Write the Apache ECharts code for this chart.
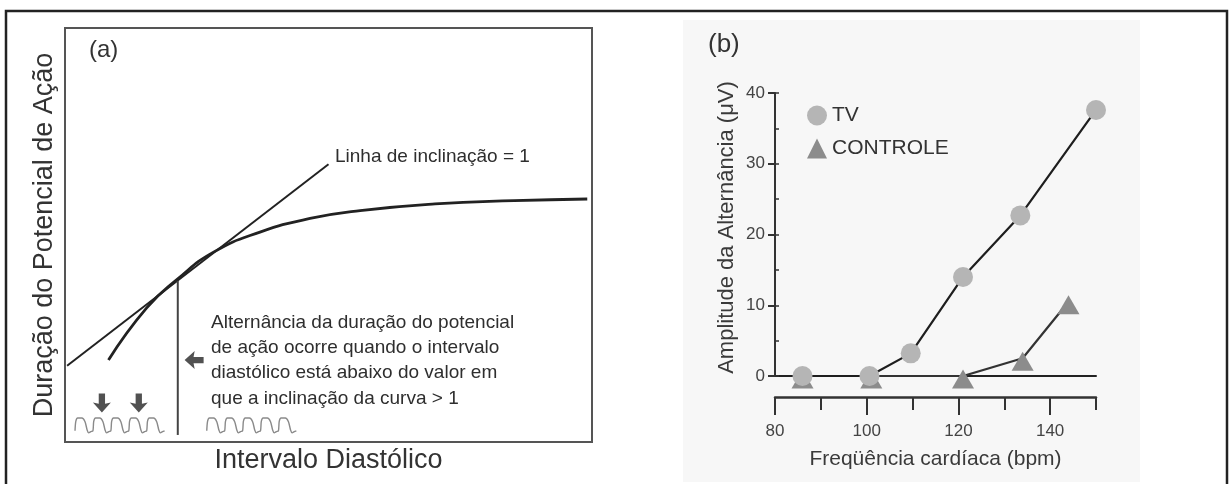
<!DOCTYPE html>
<html>
<head>
<meta charset="utf-8">
<script src="https://cdn.jsdelivr.net/npm/echarts@6/dist/echarts.min.js"></script>
<style>
html,body{margin:0;padding:0;background:#fff;}
#chart{width:1229px;height:484px;}
</style>
</head>
<body>
<div id="chart"></div>
<script>
// painel (a): curva de restituição, em unidades da caixa (0..100)
var restitutionCurve = [[8.25,19.8],[15.5,32.4],[21.4,39.4],[28.1,45.8],[37.0,50.7],[46.5,54.0],[56.0,55.9],[70.2,57.5],[85.2,58.3],[99.1,58.7]];
var slopeOneLine = [[0.4,18.4],[50.0,67.1]];
var thresholdLine = [[21.4,38.9],[21.4,1.7]];
// setas: x, y, rotação
var arrowMarks = [[7.0,9.4,180],[14.0,9.4,180],[24.5,19.8,90]];
// um batimento do traçado (dx, dy) e onde começa cada traçado
var pulseShape = [[0,0],[0.15,2.3],[0.5,3.1],[1.3,3.1],[1.9,2.2],[2.3,0.2],[2.6,-0.5],[3.0,-0.2],[3.4,0]];
var waveStarts = [1.9, 26.9];
var waveBase = 2.7;
var beats = 5;

// painel (b): amplitude da alternância x frequência cardíaca
var tvRate = [86, 100.6, 109.6, 121, 133.5, 150];
var tvAmp = [0, 0, 3.2, 14, 22.7, 37.6];
var ctrlRate = [86, 101, 121, 134, 144];
var ctrlAmp = [0, 0, 0, 2.5, 10.5];
var legendNames = ['TV', 'CONTROLE'];

var FONT = 'Liberation Sans, Arial, sans-serif';

function zip(xs, ys){ return xs.map(function(x,i){ return [x, ys[i]]; }); }
function waveLine(x0){
    var pts = [];
    for (var c = 0; c < beats; c++) {
        pulseShape.forEach(function(p, k){
            if (c > 0 && k === 0) return;
            pts.push([x0 + c * 3.4 + p[0], waveBase + p[1]]);
        });
    }
    return pts;
}

var chart = echarts.init(document.getElementById('chart'));

var hidden = {axisLine:{show:false}, axisTick:{show:false}, axisLabel:{show:false}, splitLine:{show:false}};

var option = {
    animation:false,
    backgroundColor:'#ffffff',
    textStyle:{fontFamily:FONT},
    grid:[
        {left:65, top:28, width:527, height:414, show:true, borderColor:'#555', borderWidth:2, backgroundColor:'transparent'},
        {left:775, top:93, width:321, height:283}
    ],
    legend:{
        orient:'vertical', left:807, top:105, padding:0,
        itemWidth:20, itemHeight:20, itemGap:12,
        textStyle:{fontSize:21, color:'#333', fontFamily:FONT},
        data:[{name:legendNames[0], icon:'circle'},{name:legendNames[1], icon:'triangle'}]
    },
    xAxis:[
        Object.assign({gridIndex:0, type:'value', min:0, max:100,
            name:'Intervalo Diastólico', nameLocation:'middle', nameGap:5,
            nameTextStyle:{fontSize:27, color:'#333'}}, hidden),
        {gridIndex:1, type:'value', min:80, max:150, interval:10, position:'bottom',
            axisLine:{onZero:false, lineStyle:{color:'#222', width:2}},
            axisTick:{show:false}, axisLabel:{show:false}, splitLine:{show:false}},
        {gridIndex:1, type:'value', min:80, max:150, interval:10, position:'bottom', offset:21,
            axisLine:{onZero:false, lineStyle:{color:'#333', width:2.5}},
            axisTick:{length:13, lineStyle:{color:'#333', width:2}},
            axisLabel:{show:false}, splitLine:{show:false}},
        {gridIndex:1, type:'value', min:80, max:150, interval:20, position:'bottom', offset:21,
            axisLine:{show:false, onZero:false},
            axisTick:{length:18, lineStyle:{color:'#333', width:2}},
            axisLabel:{fontSize:17, color:'#444', margin:26, showMaxLabel:false},
            splitLine:{show:false},
            name:'Freqüência cardíaca (bpm)', nameLocation:'middle', nameGap:52,
            nameTextStyle:{fontSize:21, color:'#3a3a3a'}}
    ],
    yAxis:[
        Object.assign({gridIndex:0, type:'value', min:0, max:100,
            name:'Duração do Potencial de Ação', nameLocation:'middle', nameGap:7,
            nameTextStyle:{fontSize:27, color:'#333'}}, hidden),
        {gridIndex:1, type:'value', min:0, max:40, interval:10, position:'left',
            axisLine:{show:true, onZero:false, lineStyle:{color:'#333', width:2}},
            axisTick:{show:true, length:7, lineStyle:{color:'#333', width:2}},
            axisLabel:{fontSize:17, color:'#444', margin:10},
            splitLine:{show:false},
            name:'Amplitude da Alternância (μV)', nameLocation:'middle', nameGap:37,
            nameTextStyle:{fontSize:22, color:'#3a3a3a', padding:[0,0,0,14]}},
        {gridIndex:1, type:'value', min:0, max:40, interval:5, position:'left',
            axisLine:{show:false, onZero:false},
            axisTick:{show:true, inside:true, length:4, lineStyle:{color:'#333', width:1.5}},
            axisLabel:{show:false}, splitLine:{show:false}}
    ],
    graphic:[
        {type:'rect', z:-10, silent:true, shape:{x:683, y:20, width:457, height:462}, style:{fill:'#f7f7f7'}},
        {type:'rect', z:-9, silent:true, shape:{x:6, y:11, width:1221, height:520}, style:{fill:'none', stroke:'#222', lineWidth:2.5}},
        {type:'text', x:89, y:50, style:{text:'(a)', fontSize:24, fill:'#333', fontFamily:FONT, verticalAlign:'middle'}},
        {type:'text', x:708, y:45, style:{text:'(b)', fontSize:26, fill:'#333', fontFamily:FONT, verticalAlign:'middle'}},
        {type:'text', x:335, y:157, style:{text:'Linha de inclinação = 1', fontSize:19, fill:'#2e2e2e', fontFamily:FONT, verticalAlign:'middle'}},
        {type:'text', x:211, y:310, style:{
            text:'Alternância da duração do potencial\nde ação ocorre quando o intervalo\ndiastólico está abaixo do valor em\nque a inclinação da curva > 1',
            fontSize:19, lineHeight:25.3, fill:'#2e2e2e', fontFamily:FONT, verticalAlign:'top'}}
    ],
    series:[
        {name:'curva', type:'line', xAxisIndex:0, yAxisIndex:0, data:restitutionCurve, smooth:0.5,
            showSymbol:false, lineStyle:{color:'#222', width:2.8}, silent:true},
        {name:'inclinacao', type:'line', xAxisIndex:0, yAxisIndex:0, data:slopeOneLine,
            showSymbol:false, lineStyle:{color:'#222', width:2}, silent:true},
        {name:'limiar', type:'line', xAxisIndex:0, yAxisIndex:0, data:thresholdLine,
            showSymbol:false, lineStyle:{color:'#444', width:2}, silent:true},
        {name:'tracado1', type:'line', xAxisIndex:0, yAxisIndex:0, data:waveLine(waveStarts[0]), smooth:0.25,
            showSymbol:false, lineStyle:{color:'#8a8a8a', width:1.4}, silent:true},
        {name:'tracado2', type:'line', xAxisIndex:0, yAxisIndex:0, data:waveLine(waveStarts[1]), smooth:0.25,
            showSymbol:false, lineStyle:{color:'#8a8a8a', width:1.4}, silent:true},
        {name:'setas', type:'scatter', xAxisIndex:0, yAxisIndex:0,
            data:arrowMarks.map(function(a){ return {value:[a[0],a[1]], symbolRotate:a[2]}; }),
            symbol:'path://M8,0 L16,9 L10.8,8 L10.8,17 L5.2,17 L5.2,8 L0,9 Z',
            symbolSize:[18,19], itemStyle:{color:'#262626'}, silent:true},
        {name:legendNames[1], type:'line', xAxisIndex:1, yAxisIndex:1, data:zip(ctrlRate, ctrlAmp), z:3,
            symbol:'triangle', symbolSize:[22,19], symbolOffset:[0,3],
            itemStyle:{color:'#8c8c8c'}, lineStyle:{color:'#333', width:2.2}},
        {name:legendNames[0], type:'line', xAxisIndex:1, yAxisIndex:1, data:zip(tvRate, tvAmp), z:4,
            symbol:'circle', symbolSize:20,
            itemStyle:{color:'#b5b5b5'}, lineStyle:{color:'#1e1e1e', width:2.2}}
    ]
};
chart.setOption(option);
</script>
</body>
</html>
